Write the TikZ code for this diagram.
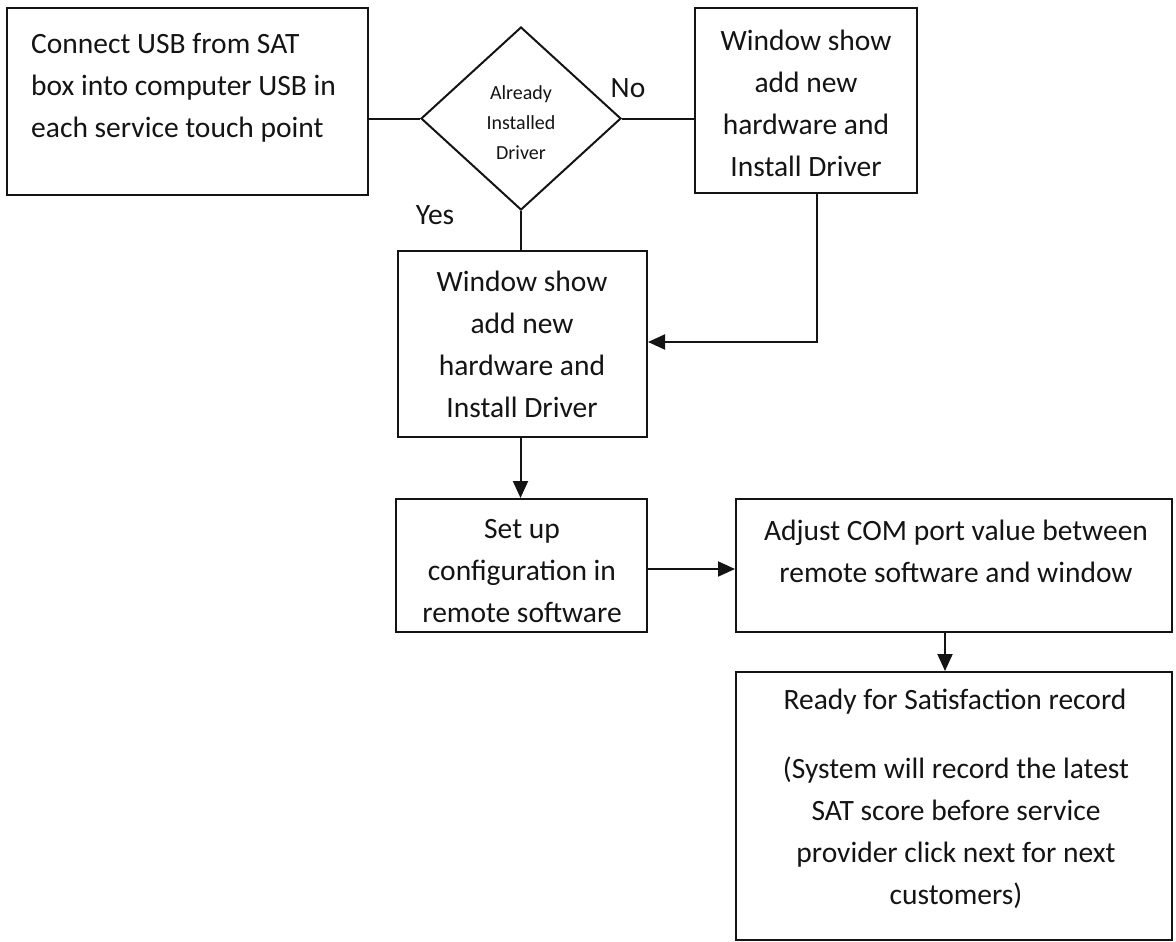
\documentclass[tikz,border=0pt]{standalone}
\usepackage{fontspec}
\setmainfont{Carlito}
\usetikzlibrary{arrows.meta,shapes.geometric}
\definecolor{ink}{HTML}{141414}
\tikzset{
  box/.style={draw=ink,line width=2pt,rectangle,inner sep=0pt},
  dec/.style={draw=ink,line width=2pt,diamond,inner sep=0pt},
  txt/.style={text=ink,align=center,inner sep=0pt,font=\fontsize{29.5}{42}\selectfont},
  small/.style={text=ink,align=center,inner sep=0pt,font=\fontsize{20}{30}\selectfont},
  link/.style={draw=ink,line width=2pt},
  arr/.style={link,-{Triangle[length=17pt,width=15pt]}}
}
\begin{document}
\begin{tikzpicture}[x=1pt,y=-1pt]
\useasboundingbox (0,0) rectangle (1176,942);

% boxes
\node[box,minimum width=361pt,minimum height=187pt] (connect) at (187.5,101.5) {};
\node[dec,minimum width=200pt,minimum height=183pt] (check) at (521,118.5) {};
\node[box,minimum width=222pt,minimum height=185pt] (newhwA) at (806,100.5) {};
\node[box,minimum width=249pt,minimum height=186pt] (newhwB) at (522.5,344) {};
\node[box,minimum width=251pt,minimum height=133pt] (setup) at (521.5,565.5) {};
\node[box,minimum width=436pt,minimum height=133pt] (adjust) at (954,565.5) {};
\node[box,minimum width=436pt,minimum height=268pt] (ready) at (954,806) {};

% texts
\node[txt,align=left,anchor=west] (tconnect) at (31,88) {Connect USB from SAT\\box into computer USB in\\each service touch point};
\node[small] (tcheck) at (521,123) {Already\\Installed\\Driver};
\node[txt] (tnewhwA) at (806,103) {Window show\\add new\\hardware and\\Install Driver};
\node[txt] (tnewhwB) at (522,344) {Window show\\add new\\hardware and\\Install Driver};
\node[txt] (tsetup) at (522,571) {Set up\\configuration in\\remote software};
\node[txt] (tadjust) at (956,551) {Adjust COM port value between\\remote software and window};
\node[txt,anchor=center] (tready) at (955,702) {Ready for Satisfaction record};
\node[txt] (tsystem) at (956,833) {(System will record the latest\\SAT score before service\\provider click next for next\\customers)};

% branch labels
\node[txt] (lno) at (628,88) {No};
\node[txt] (lyes) at (435,215) {Yes};

% connectors
\draw[link] (check.west -| connect.east) -- (check.west);
\draw[link] (check.east) -- (check.east -| newhwA.west);
\draw[link] (check.south) -- (check.south |- newhwB.north);
\draw[arr] ([xshift=11pt]newhwA.south) |- ([yshift=2pt]newhwB.east);
\draw[arr] ([xshift=-2pt]newhwB.south) -- ([xshift=-1pt]setup.north);
\draw[arr] ([yshift=-3.5pt]setup.east) -- ([yshift=-3.5pt]adjust.west);
\draw[arr] ([xshift=-9pt]adjust.south) -- ([xshift=-9pt]ready.north);
\end{tikzpicture}
\end{document}
